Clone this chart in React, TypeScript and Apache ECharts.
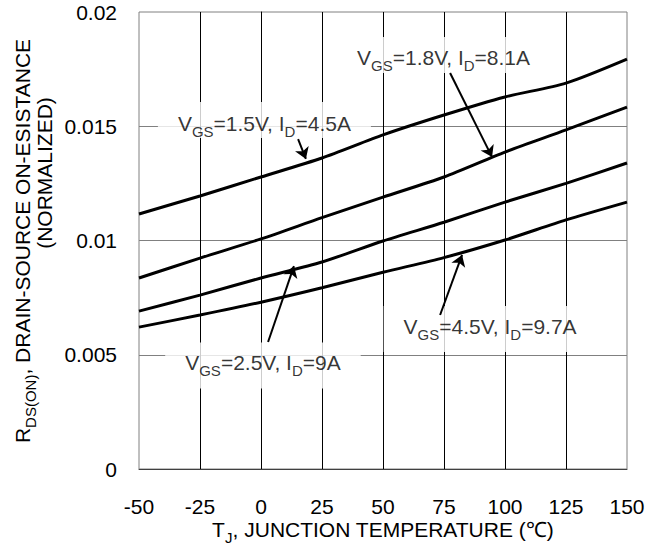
import { useEffect, useRef } from "react";
import * as echarts from "echarts";

const temps = [-50, -25, 0, 25, 50, 75, 100, 125, 150];
const vgs15 = [0.01116, 0.01195, 0.01278, 0.01361, 0.01462, 0.01549, 0.01628, 0.01689, 0.01794];
const vgs18 = [0.00836, 0.00923, 0.01007, 0.01100, 0.0119, 0.01278, 0.01387, 0.01484, 0.01584];
const vgs25 = [0.00691, 0.00761, 0.00836, 0.00906, 0.00998, 0.0108, 0.01168, 0.0125, 0.01339];
const vgs45 = [0.00621, 0.00674, 0.0073, 0.00793, 0.00861, 0.00925, 0.01002, 0.0109, 0.01168];

const labelTexts = [
  "{v|V}{s|GS}{v|=1.5V, I}{s|D}{v|=4.5A}",
  "{v|V}{s|GS}{v|=1.8V, I}{s|D}{v|=8.1A}",
  "{v|V}{s|GS}{v|=2.5V, I}{s|D}{v|=9A}",
  "{v|V}{s|GS}{v|=4.5V, I}{s|D}{v|=9.7A}",
];
// label anchors (data units: temperature, resistance)
const labelAnchors = [
  [1.4, 0.01527],
  [74.8, 0.01812],
  [0.8, 0.00453],
  [93.9, 0.00613],
];
// arrow start / end (data units)
const arrowStarts = [
  [15.2, 0.01444],
  [77.5, 0.01733],
  [2.9, 0.00556],
  [73.4, 0.00674],
];
const arrowEnds = [
  [18.4, 0.01357],
  [94.7, 0.01365],
  [13.5, 0.00888],
  [82.4, 0.00937],
];

const FONT = "'Liberation Sans', Arial, Helvetica, sans-serif";

const mainStyle = (size: number) => ({
  fontSize: size,
  lineHeight: 18,
  verticalAlign: "top",
  fontFamily: FONT,
  color: "#000",
  fill: "#000",
});
const subStyle = (size: number) => ({
  fontSize: size,
  lineHeight: 18,
  padding: [11, 0, 0, 0],
  verticalAlign: "top",
  fontFamily: FONT,
  color: "#000",
  fill: "#000",
});

export default function App() {
  const ref = useRef<HTMLDivElement>(null);
  useEffect(() => {
    if (!ref.current) return;
    const chart = echarts.init(ref.current, undefined, { renderer: "svg" });
    const mk = (vals: number[]) => temps.map((t, i) => [t, vals[i]]);
    const curveSeries = [vgs15, vgs18, vgs25, vgs45].map((vals) => ({
      type: "line",
      data: mk(vals),
      smooth: 0.25,
      showSymbol: false,
      silent: true,
      lineStyle: { color: "#000", width: 3 },
      z: 3,
    }));
    const paddings = [
      [11, 20, 7, 20],
      [10, 20, 8, 20],
      [10, 20, 18, 20],
      [10, 20, 18, 20],
    ];
    chart.setOption({
      animation: false,
      grid: {
        left: 139,
        right: 20,
        top: 12,
        bottom: 79,
        show: true,
        borderColor: "#808080",
        borderWidth: 1,
        outerBoundsMode: "none",
        containLabel: false,
      },
      xAxis: {
        type: "value",
        min: -50,
        max: 150,
        interval: 25,
        axisLine: { show: true, lineStyle: { color: "#404040", width: 1 } },
        axisTick: { show: false },
        axisLabel: { fontSize: 21, color: "#000", fontFamily: FONT, margin: 27 },
        splitLine: { show: true, showMinLine: false, showMaxLine: false, lineStyle: { color: "#000", width: 1 } },
      },
      yAxis: {
        type: "value",
        min: 0,
        max: 0.02,
        interval: 0.005,
        axisLine: { show: true, lineStyle: { color: "#000", width: 1 } },
        axisTick: { show: false },
        axisLabel: { fontSize: 21, color: "#000", fontFamily: FONT, margin: 22 },
        splitLine: { show: true, showMinLine: false, showMaxLine: false, lineStyle: { color: "#808080", width: 1 } },
      },
      series: [
        ...curveSeries,
        {
          type: "scatter",
          symbolSize: 0.1,
          silent: true,
          itemStyle: { color: "rgba(0,0,0,0)" },
          z: 5,
          data: labelAnchors.map((p, i) => ({
            value: p,
            label: {
              show: true,
              position: "inside",
              formatter: labelTexts[i],
              backgroundColor: "#fff",
              padding: paddings[i],
              rich: { v: mainStyle(21), s: subStyle(15) },
            },
          })),
        },
        {
          type: "lines",
          coordinateSystem: "cartesian2d",
          silent: true,
          z: 6,
          symbol: ["none", "arrow"],
          symbolSize: 11,
          lineStyle: { color: "#000", width: 2, opacity: 1, curveness: 0 },
          data: arrowStarts.map((s, i) => ({ coords: [s, arrowEnds[i]] })),
        },
      ],
      graphic: [
        {
          type: "text",
          x: 21,
          y: 241,
          rotation: Math.PI / 2,
          style: {
            text: "{r|R}{s|DS(ON)}{r|, DRAIN-SOURCE ON-ESISTANCE}",
            align: "center",
            verticalAlign: "middle",
            rich: { r: mainStyle(21), s: subStyle(15) },
          },
        },
        {
          type: "text",
          x: 44,
          y: 173,
          rotation: Math.PI / 2,
          style: {
            text: "(NORMALIZED)",
            align: "center",
            verticalAlign: "middle",
            font: `21px ${FONT}`,
            fill: "#000",
          },
        },
        {
          type: "text",
          x: 383,
          y: 528,
          style: {
            text: "{t|T}{j|J}{t|, JUNCTION TEMPERATURE (℃)}",
            align: "center",
            verticalAlign: "middle",
            rich: { t: mainStyle(21), j: subStyle(15) },
          },
        },
      ],
    });
    return () => chart.dispose();
  }, []);
  return (
    <div
      ref={ref}
      style={{ position: "fixed", left: 0, top: 0, width: 647, height: 548, background: "#fff" }}
    />
  );
}
